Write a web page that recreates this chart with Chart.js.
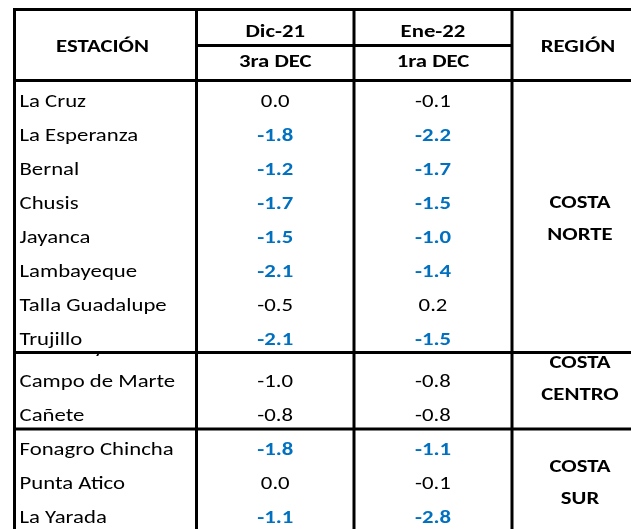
<!DOCTYPE html>
<html lang="es">
<head>
<meta charset="utf-8">
<title>Anomalías por estación</title>
<script src="https://cdn.jsdelivr.net/npm/chart.js@4.4.1/dist/chart.umd.min.js"></script>
<style>
    html, body { margin: 0; padding: 0; background: #ffffff; }
    #tabla { display: block; }
</style>
</head>
<body>
<canvas id="tabla" width="631" height="529"></canvas>
<script>
// datos de la tabla
const estaciones = ["La Cruz", "La Esperanza", "Bernal", "Chusis", "Jayanca", "Lambayeque", "Talla Guadalupe", "Trujillo",
    "Huarmey", "Campo de Marte", "Cañete", "Fonagro Chincha", "Punta Atico", "La Yarada"];
const valoresDic21 = [0.0, -1.8, -1.2, -1.7, -1.5, -2.1, -0.5, -2.1, -0.5, -1.0, -0.8, -1.8, 0.0, -1.1];
const valoresEne22 = [-0.1, -2.2, -1.7, -1.5, -1.0, -1.4, 0.2, -1.5, -0.3, -0.8, -0.8, -1.1, -0.1, -2.8];
const destacadoDic21 = [false, true, true, true, true, true, false, true, false, false, false, true, false, true];
const destacadoEne22 = [false, true, true, true, true, true, false, true, false, false, false, true, false, true];
const periodos = ["Dic-21", "Ene-22"];
const decadas = ["3ra DEC", "1ra DEC"];
const regiones = ["COSTA NORTE", "COSTA CENTRO", "COSTA SUR"];
const regionInicio = [0, 8, 11];
const regionFin = [7, 10, 13];

// maquetación
const ANCHO = 631, ALTO = 529;
const FILA_PX = 34;
const CAB_FIN_PX = 80.5;
const colBordes = [14.5, 196.5, 354, 512, 652];
const FILA_OCULTA = 8;   // Huarmey queda casi tapada
const altoFilas = estaciones.map((e, i) => i === FILA_OCULTA ? 0.25 : 1);
const cabTop = (9.5 - CAB_FIN_PX) / FILA_PX;
const cabMedio = (45.5 - CAB_FIN_PX) / FILA_PX;
const ajusteRegion = [0, -0.44, 0];
const FUENTE = "Calibri, Carlito, Lato, sans-serif";
const TAM = 17.5;
const ESTIRA = 1.3;      // la imagen original está ensanchada
const AZUL = "#0070C0";
const NEGRO = "#000000";

const filaTop = [], filaBot = [];
let acum = 0;
altoFilas.forEach(h => { filaTop.push(acum); acum += h; filaBot.push(acum); });

const colCentro = i => (colBordes[i] + colBordes[i + 1]) / 2;

function texto(ctx, str, x, yCap, negrita, color, align) {
    ctx.save();
    ctx.font = (negrita ? "bold " : "") + TAM + "px " + FUENTE;
    ctx.fillStyle = color;
    ctx.textAlign = align;
    ctx.textBaseline = "alphabetic";
    ctx.translate(x, yCap + TAM * 0.36);
    ctx.scale(ESTIRA, 1);
    ctx.fillText(str, 0, 0);
    ctx.restore();
}

const tablaPlugin = {
    id: "tabla",
    afterDatasetsDraw(chart) {
        const ctx = chart.ctx;
        const sx = chart.scales.x, sy = chart.scales.y;
        const px = v => sx.getPixelForValue(v);
        const py = v => sy.getPixelForValue(v);
        ctx.save();

        // cabecera
        const yCab = (py(cabTop) + py(0)) / 2;
        texto(ctx, "ESTACIÓN", px(colCentro(0)) - 3, yCab + 1, true, NEGRO, "center");
        texto(ctx, "REGIÓN", px(colCentro(3)) - 4, yCab + 1, true, NEGRO, "center");
        periodos.forEach((p, i) => {
            texto(ctx, p, px(colCentro(i + 1)), (py(cabTop) + py(cabMedio)) / 2 + 3, true, NEGRO, "center");
            texto(ctx, decadas[i], px(colCentro(i + 1)), (py(cabMedio) + py(0)) / 2 - 2, true, NEGRO, "center");
        });

        // celdas de cada dataset
        chart.data.datasets.forEach((ds, d) => {
            const meta = chart.getDatasetMeta(d);
            meta.data.forEach((pt, i) => {
                ctx.save();
                ctx.beginPath();
                ctx.rect(0, py(filaTop[i]), ANCHO, py(filaBot[i]) - py(filaTop[i]));
                ctx.clip();
                const fuerte = ds.destacado ? ds.destacado[i] : false;
                texto(ctx, ds.textos[i], pt.x, pt.y + 2.7, fuerte, fuerte ? AZUL : NEGRO, ds.alinear);
                ctx.restore();
            });
        });

        // regiones
        regiones.forEach((r, k) => {
            const c = (filaTop[regionInicio[k]] + filaBot[regionFin[k]]) / 2 + ajusteRegion[k];
            const lineas = r.split(" ");
            lineas.forEach((l, j) => {
                const y = py(c) + 1.5 + (j - (lineas.length - 1) / 2) * 32;
                texto(ctx, l, px(colCentro(3)) - 2, y, true, NEGRO, "center");
            });
        });

        // bordes
        ctx.strokeStyle = "#000000";
        ctx.lineWidth = 3;
        ctx.lineCap = "butt";
        const linea = (x1, y1, x2, y2) => {
            ctx.beginPath();
            ctx.moveTo(x1, y1);
            ctx.lineTo(x2, y2);
            ctx.stroke();
        };
        const izq = px(colBordes[0]) - 1.5;
        [cabTop, 0].concat(regionFin.map(f => filaBot[f])).forEach(v => linea(izq, py(v), ANCHO, py(v)));
        linea(px(colBordes[1]), py(cabMedio), px(colBordes[3]), py(cabMedio));
        colBordes.slice(0, 4).forEach(c => linea(px(c), py(cabTop) - 1.5, px(c), ALTO));

        ctx.restore();
    }
};

new Chart(document.getElementById("tabla"), {
    type: "scatter",
    data: {
        datasets: [
            {
                label: "ESTACIÓN",
                data: estaciones.map((e, i) => ({ x: colBordes[0] + 5, y: filaBot[i] - 0.5 })),
                textos: estaciones,
                alinear: "left",
                pointRadius: 0
            },
            {
                label: periodos[0] + " " + decadas[0],
                data: valoresDic21.map((v, i) => ({ x: colCentro(1), y: filaBot[i] - 0.5 })),
                textos: valoresDic21.map(v => v.toFixed(1)),
                destacado: destacadoDic21,
                alinear: "center",
                pointRadius: 0
            },
            {
                label: periodos[1] + " " + decadas[1],
                data: valoresEne22.map((v, i) => ({ x: colCentro(2), y: filaBot[i] - 0.5 })),
                textos: valoresEne22.map(v => v.toFixed(1)),
                destacado: destacadoEne22,
                alinear: "center",
                pointRadius: 0
            }
        ]
    },
    options: {
        responsive: false,
        animation: false,
        events: [],
        layout: { padding: 0 },
        plugins: { legend: { display: false }, tooltip: { enabled: false } },
        scales: {
            x: { type: "linear", min: 0, max: ANCHO, display: false },
            y: { type: "linear", reverse: true, min: -CAB_FIN_PX / FILA_PX, max: (ALTO - CAB_FIN_PX) / FILA_PX, display: false }
        }
    },
    plugins: [tablaPlugin]
});
</script>
</body>
</html>
